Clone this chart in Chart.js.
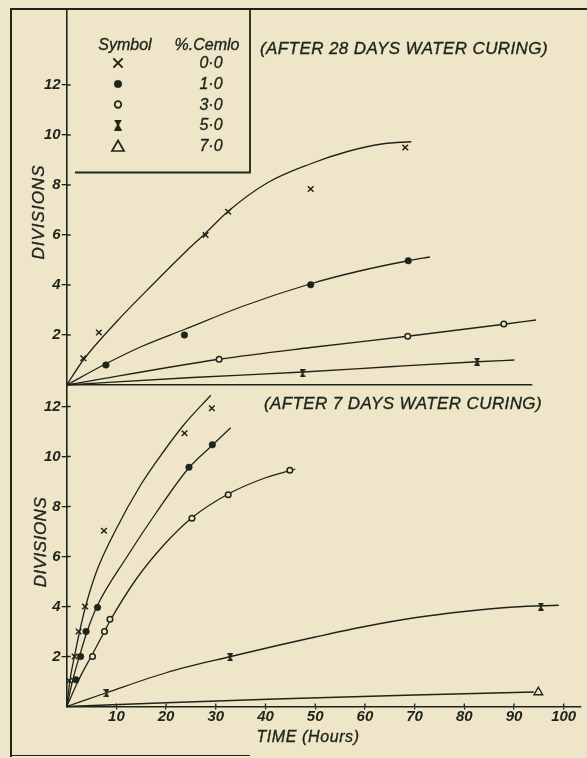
<!DOCTYPE html>
<html><head><meta charset="utf-8">
<script src="https://cdn.jsdelivr.net/npm/chart.js@4.4.1/dist/chart.umd.min.js"></script>
<style>
html,body{margin:0;padding:0;background:#efe5c9;}
#wrap{position:relative;width:587px;height:758px;overflow:hidden;background:#efe5c9;}
canvas{position:absolute;left:0;}
.t{position:absolute;font-family:'Liberation Sans',Arial,sans-serif;font-style:italic;color:#1d2419;white-space:nowrap;line-height:1;transform:translate(-50%,-50%);-webkit-text-stroke:0.35px #1d2419;}
.r{transform:translate(-50%,-50%) rotate(-90deg);}
#frame{position:absolute;left:10px;top:8px;width:600px;height:0;border-top:2px solid #1d2419;}
#lframe{position:absolute;left:10px;top:8px;width:0;height:749px;border-left:2px solid #1d2419;}
#bframe{position:absolute;left:10px;top:755px;width:240px;height:0;border-top:1.5px solid #1d2419;}
</style></head>
<body><div id="wrap">
<canvas id="c28" width="587" height="400" style="top:0;width:587px;height:400px"></canvas>
<canvas id="c7" width="587" height="382" style="top:376px;width:587px;height:382px"></canvas>
<div id="frame"></div><div id="lframe"></div><div id="bframe"></div>
<div class="t" style="left:404px;top:48px;font-size:17px;letter-spacing:0.4px">(AFTER 28 DAYS WATER CURING)</div>
<div class="t" style="left:403px;top:403px;font-size:17px;letter-spacing:0.4px">(AFTER 7 DAYS WATER CURING)</div>
<div class="t" style="left:308px;top:737px;font-size:16px;letter-spacing:0.6px">TIME (Hours)</div>
<div class="t r" style="left:38px;top:212px;font-size:17px;letter-spacing:1px">DIVISIONS</div>
<div class="t r" style="left:40px;top:542px;font-size:17px;letter-spacing:0.5px">DIVISIONS</div>
<div class="t" style="left:125px;top:45px;font-size:16px">Symbol</div>
<div class="t" style="left:207px;top:45px;font-size:16px">%.Cemlo</div>
<div id="legvals"></div>
</div>
<script>
const INK = '#1d2419', BG = '#efe5c9';

// legend / ticks
const pctLabels = ['0·0', '1·0', '3·0', '5·0', '7·0'];
const yTicks = [2, 4, 6, 8, 10, 12];
const xTicks = [10, 20, 30, 40, 50, 60, 70, 80, 90, 100];

// After 28 days water curing: measured points [time, divisions]
const p28_00 = [[3.3,1.07],[6.4,2.1],[27.6,6.0],[32.1,6.93],[48.5,7.84],[67.3,9.5]];
const p28_10 = [[7.8,0.8],[23.4,2.0],[48.5,4.01],[67.9,4.97]];
const p28_30 = [[30.3,1.03],[67.8,1.95],[86.9,2.44]];
const p28_50 = [[46.9,0.47],[81.6,0.93]];
// After 28 days: drawn curves
const c28_00 = [[0,0],[3.3,1.0],[10,2.55],[17,4.0],[24,5.4],[27.6,6.07],[32.1,6.95],[40,8.1],[48.5,8.85],[56,9.35],[63,9.65],[68.5,9.73]];
const c28_10 = [[0,0],[7.8,0.85],[15,1.55],[23.4,2.22],[35,3.15],[48.5,4.05],[58,4.55],[67.9,4.97],[72.2,5.12]];
const c28_30 = [[0,0],[30.3,1.03],[48.5,1.5],[67.8,1.95],[86.9,2.43],[93.3,2.6]];
const c28_50 = [[0,0],[25,0.3],[47,0.52],[65,0.74],[81.6,0.93],[89,1.0]];

// After 7 days water curing: measured points
const p7_00 = [[0.5,1.03],[1.6,2.0],[2.4,3.0],[3.7,4.0],[7.5,7.03],[23.7,10.93],[29.2,11.93]];
const p7_10 = [[1.85,1.07],[2.8,2.0],[3.9,3.0],[6.2,3.96],[24.6,9.57],[29.3,10.47]];
const p7_30 = [[5.2,2.0],[7.6,3.0],[8.7,3.49],[25.2,7.53],[32.5,8.47],[44.9,9.45]];
const p7_50 = [[8.0,0.53],[32.9,1.97],[95.4,3.99]];
const p7_70 = [[94.9,0.57]];
// After 7 days: drawn curves
const c7_00 = [[0,0],[0.7,1.1],[1.6,2.05],[2.6,3.0],[3.8,4.0],[6,5.4],[9.7,7.0],[15,8.9],[19.5,10.2],[23.7,11.3],[29,12.45]];
const c7_10 = [[0,0],[1.4,1.2],[2.7,2.1],[4.1,3.0],[6.2,4.05],[12,5.95],[18,7.75],[24.6,9.55],[29.3,10.45],[33,11.15]];
const c7_30 = [[0,0],[2.5,1.1],[5.2,2.1],[7.6,3.0],[8.7,3.42],[14,5.1],[19.5,6.45],[25.2,7.55],[32.5,8.5],[40,9.15],[46,9.5]];
const c7_50 = [[0,0],[8,0.55],[20,1.35],[33,2.0],[42.6,2.45],[50,2.78],[60,3.2],[70,3.55],[80,3.8],[90,3.98],[99,4.05]];
const c7_70 = [[0,0],[20,0.15],[42,0.3],[70,0.46],[94,0.58]];

function hourglass(w, h) {
  const c = document.createElement('canvas');
  c.width = w; c.height = h;
  const g = c.getContext('2d');
  g.fillStyle = INK;
  g.beginPath();
  g.moveTo(0,0); g.lineTo(w,0); g.lineTo(w*0.62,h/2); g.lineTo(w,h); g.lineTo(0,h); g.lineTo(w*0.38,h/2);
  g.closePath(); g.fill();
  return c;
}
const hgSmall = hourglass(6, 8);
const hgBig = hourglass(8, 11);

const marks = [
  {pointStyle:'crossRot', pointRadius:4, pointBorderWidth:1.5, pointBackgroundColor:INK},
  {pointStyle:'circle', pointRadius:3.3, pointBorderWidth:0.5, pointBackgroundColor:INK},
  {pointStyle:'circle', pointRadius:2.8, pointBorderWidth:1.5, pointBackgroundColor:BG},
  {pointStyle:hgSmall, pointRadius:4, pointBorderWidth:0, pointBackgroundColor:INK},
  {pointStyle:'triangle', pointRadius:5, pointBorderWidth:1.4, pointBackgroundColor:BG}
];

const xy = a => a.map(([x, y]) => ({x, y}));
function pointsDS(arr, k) {
  return Object.assign({data: xy(arr), showLine:false, pointBorderColor:INK, order:0, clip:false, pointHoverRadius:0}, marks[k]);
}
function curveDS(arr) {
  return {data: xy(arr), showLine:true, borderColor:INK, borderWidth:1.3, pointRadius:0, pointHoverRadius:0,
          cubicInterpolationMode:'monotone', order:1, clip:false, fill:false};
}

const tickFont = {family:"'Liberation Sans', Arial, sans-serif", style:'italic', weight:'bold', size:15, lineHeight:1};

// tick marks crossing the axes (inner half)
const innerTicks = {
  id:'innerTicks',
  afterDraw(chart) {
    const ctx = chart.ctx, xs = chart.scales.x, ys = chart.scales.y, a = chart.chartArea;
    ctx.save();
    ctx.strokeStyle = INK; ctx.lineWidth = 1.3;
    ctx.beginPath();
    yTicks.forEach(v => { const p = ys.getPixelForValue(v); ctx.moveTo(a.left, p); ctx.lineTo(a.left + 4, p); });
    if (chart.options.scales.x.ticks.display) {
      xTicks.forEach(v => { const p = xs.getPixelForValue(v); ctx.moveTo(p, a.bottom); ctx.lineTo(p, a.bottom - 3); });
    }
    ctx.stroke();
    ctx.restore();
  }
};

function makeChart(id, datasets, cfg) {
  return new Chart(document.getElementById(id), {
    type: 'scatter',
    data: {datasets},
    options: {
      responsive:false, animation:false, devicePixelRatio:1,
      events: [],
      layout: {padding: cfg.padding},
      plugins: {legend:{display:false}, tooltip:{enabled:false}, title:{display:false}},
      scales: {
        x: {
          type:'linear', min:0, max:cfg.xmax,
          border:{display:true, color:INK, width:1.6},
          grid:{display:cfg.xLabels, drawOnChartArea:false, drawTicks:true, tickLength:3, color:INK, lineWidth:1.3},
          ticks:{display:cfg.xLabels, color:INK, font:tickFont, padding:0, maxRotation:0, autoSkip:false},
          afterBuildTicks: s => { s.ticks = xTicks.map(v => ({value:v})); },
          afterFit: s => { s.height = cfg.xh; }
        },
        y: {
          type:'linear', min:0, max:cfg.ymax,
          border:{display:true, color:INK, width:1.6},
          grid:{display:true, drawOnChartArea:false, drawTicks:true, tickLength:5, color:INK, lineWidth:1.3},
          ticks:{color:INK, font:tickFont, padding:1, autoSkip:false},
          afterBuildTicks: s => { s.ticks = yTicks.map(v => ({value:v})); },
          afterFit: s => { s.width = 66.7; }
        }
      }
    },
    plugins: [innerTicks].concat(cfg.plugins || [])
  });
}

const legendRows = [63, 84, 104.5, 125, 146];
const legendBox = {
  id:'legendBox',
  afterDraw(chart) {
    const ctx = chart.ctx;
    ctx.save();
    ctx.strokeStyle = INK; ctx.lineWidth = 1.8;
    ctx.beginPath();
    ctx.moveTo(250, 9); ctx.lineTo(250, 172.5); ctx.lineTo(75, 172.5);
    ctx.stroke();
    const legMarks = [
      {pointStyle:'crossRot', radius:6.5, borderWidth:2, fill:INK},
      {pointStyle:'circle', radius:3.8, borderWidth:0.5, fill:INK},
      {pointStyle:'circle', radius:3.3, borderWidth:1.7, fill:BG},
      {pointStyle:hgBig, radius:5, borderWidth:0, fill:INK},
      {pointStyle:'triangle', radius:7, borderWidth:1.7, fill:BG}
    ];
    legMarks.forEach((m, i) => {
      ctx.fillStyle = m.fill; ctx.strokeStyle = INK; ctx.lineWidth = m.borderWidth;
      Chart.helpers.drawPoint(ctx, {pointStyle:m.pointStyle, radius:m.radius, rotation:0, borderWidth:m.borderWidth}, 118, legendRows[i] + (i === 4 ? 1.5 : 0));
    });
    ctx.restore();
  }
};

// legend value texts
const lv = document.getElementById('legvals');
pctLabels.forEach((t, i) => {
  const d = document.createElement('div');
  d.className = 't';
  d.style.cssText = `left:211px;top:${legendRows[i]}px;font-size:16px`;
  d.textContent = t;
  lv.appendChild(d);
});

makeChart('c28', [
  curveDS(c28_00), curveDS(c28_10), curveDS(c28_30), curveDS(c28_50),
  pointsDS(p28_00, 0), pointsDS(p28_10, 1), pointsDS(p28_30, 2), pointsDS(p28_50, 3)
], {padding:{top:9, left:0, right:55, bottom:0}, xmax:92.5, ymax:15.04, xLabels:false, xh:15, plugins:[legendBox]});

makeChart('c7', [
  curveDS(c7_00), curveDS(c7_10), curveDS(c7_30), curveDS(c7_50), curveDS(c7_70),
  pointsDS(p7_00, 0), pointsDS(p7_10, 1), pointsDS(p7_30, 2), pointsDS(p7_50, 3), pointsDS(p7_70, 4)
], {padding:{top:10, left:0, right:0, bottom:0}, xmax:103.4, ymax:12.82, xLabels:true, xh:51.5});
</script>
</body></html>
